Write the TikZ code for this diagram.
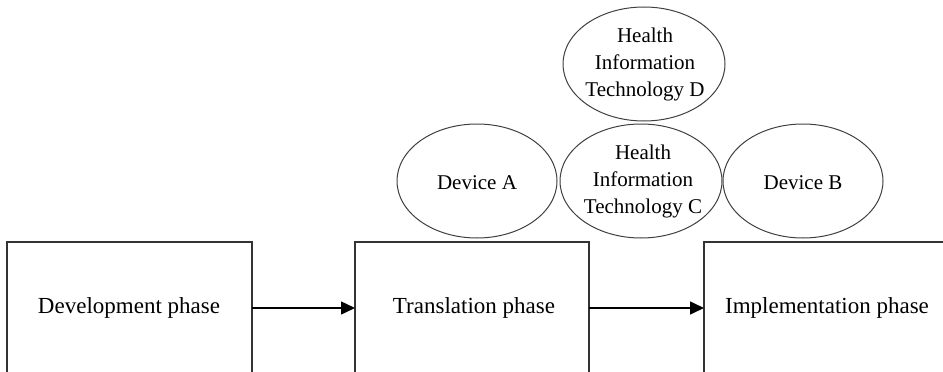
\documentclass[tikz,border=0pt]{standalone}
\usepackage{fontspec}
\setmainfont{Liberation Serif}
\usetikzlibrary{arrows.meta,shapes.geometric}
\begin{document}
\begin{tikzpicture}[x=1pt,y=-1pt,
  phase/.style={draw=black!80,line width=1.2pt},
  ring/.style={draw=black!75,line width=1pt},
  oval/.style={inner sep=0pt,align=center,font=\fontsize{21}{27}\selectfont},
  lbl/.style={font=\fontsize{23}{27}\selectfont},
  conn/.style={line width=1.5pt,-{Triangle[length=14pt,width=13pt]}}]
\useasboundingbox (0,0) rectangle (943,372);
\clip (0,0) rectangle (943,372);
\draw[phase] (7,242) rectangle (252,390);
\draw[phase] (355,242) rectangle (589,390);
\draw[phase] (704,242) rectangle (950,390);
\node[lbl] (dev) at (129,308) {Development phase};
\node[lbl] (tra) at (474,308) {Translation phase};
\node[lbl] (imp) at (827,308) {Implementation phase};
\coordinate (d1) at (252,308);
\coordinate (t0) at (355,308);
\coordinate (t1) at (589,308);
\coordinate (i0) at (704,308);
\draw[conn] (d1) -- (t0);
\draw[conn] (t1) -- (i0);
\node[oval] (da) at (477,183) {Device A};
\node[oval] (hc) at (643,181) {Health\\Information\\Technology C};
\node[oval] (db) at (803,183) {Device B};
\node[oval] (hd) at (645,64) {Health\\Information\\Technology D};
\draw[ring] (477,181) ellipse [x radius=80, y radius=57];
\draw[ring] (641,181) ellipse [x radius=81, y radius=57];
\draw[ring] (803,181) ellipse [x radius=80, y radius=57];
\draw[ring] (644,64) ellipse [x radius=81, y radius=57];
\end{tikzpicture}
\end{document}
